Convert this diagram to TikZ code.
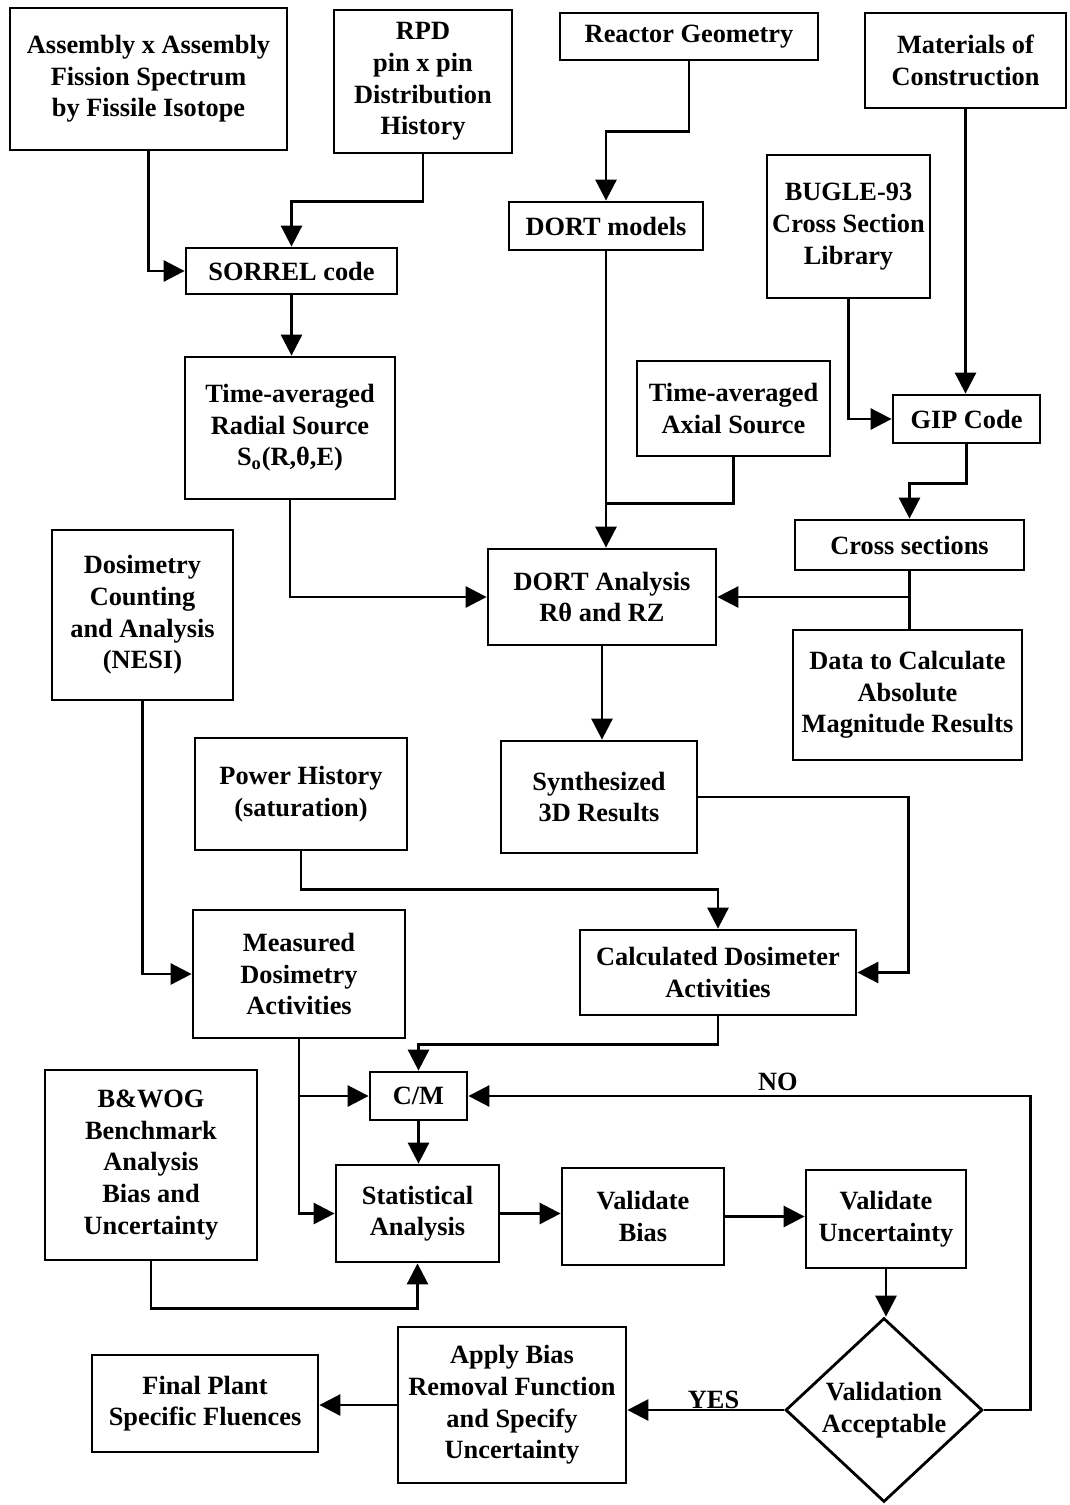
\documentclass[tikz,border=0pt]{standalone}
\usepackage{fontspec}
\setmainfont{Liberation Serif}
\usetikzlibrary{arrows.meta,shapes.geometric,calc}

\begin{document}
\begin{tikzpicture}[x=0.02cm,y=-0.02cm,
  box/.style={draw, line width=1.6pt, align=center, inner sep=2pt,
    font=\fontsize{15}{18}\selectfont\bfseries},
  sz/.style 2 args={minimum width=#1cm, minimum height=#2cm},
  decision/.style={box, diamond, inner sep=0pt},
  link/.style={line width=1.6pt},
  arr/.style={link, -{Triangle[length=0.42cm,width=0.42cm]}},
  tag/.style={font=\fontsize{15}{18}\selectfont\bfseries, inner sep=1pt}]

\useasboundingbox (0,0) rectangle (1070,1505);

% --- input data and codes ---
\node[box, sz={5.54}{2.84}] (asm)    at (148.5,79)   {Assembly x Assembly\\Fission Spectrum\\by Fissile Isotope};
\node[box, sz={3.56}{2.86}] (rpd)    at (423,81.5)   {RPD\\pin x pin\\Distribution\\History};
\node[box, sz={5.16}{0.94}] (geo)    at (689,36.5)   {Reactor Geometry};
\node[box, sz={4.02}{1.90}] (mat)    at (965.5,60.5) {Materials of\\Construction};
\node[box, sz={3.26}{2.86}] (bugle)  at (848.5,226.5) {BUGLE-93\\Cross Section\\Library};
\node[box, sz={3.88}{0.96}] (dortm)  at (606,226)    {DORT models};
\node[box, sz={4.22}{0.92}] (sorrel) at (291.5,271)  {SORREL code};
\node[box, sz={4.20}{2.84}] (radial) at (290,428)    {Time-averaged\\Radial Source\\S\textsubscript{o}(R,θ,E)};
\node[box, sz={3.86}{1.90}] (axial)  at (733.5,408.5) {Time-averaged\\Axial Source};
\node[box, sz={2.94}{0.96}] (gip)    at (966.5,419)  {GIP Code};
\node[box, sz={4.58}{1.00}] (xs)     at (909.5,545)  {Cross sections};
\node[box, sz={4.56}{1.92}] (dorta)  at (602,597)    {DORT Analysis\\Rθ and RZ};
\node[box, sz={3.62}{3.40}] (dosi)   at (142.5,615)  {Dosimetry\\Counting\\and Analysis\\(NESI)};
\node[box, sz={4.58}{2.60}] (data)   at (907.5,695)  {Data to Calculate\\Absolute\\Magnitude Results};

% --- activities ---
\node[box, sz={4.24}{2.24}] (power)  at (301,794)    {Power History\\(saturation)};
\node[box, sz={3.92}{2.24}] (synth)  at (599,797)    {Synthesized\\3D Results};
\node[box, sz={4.24}{2.56}] (meas)   at (299,974)    {Measured\\Dosimetry\\Activities};
\node[box, sz={5.52}{1.70}] (calc)   at (718,972.5)  {Calculated Dosimeter\\Activities};

% --- comparison and validation ---
\node[box, sz={1.94}{0.96}] (cm)     at (418.5,1096) {C/M};
\node[box, sz={4.24}{3.80}] (bwog)   at (151,1165)   {B\&WOG\\Benchmark\\Analysis\\Bias and\\Uncertainty};
\node[box, sz={3.26}{1.94}] (stat)   at (417.5,1213.5) {Statistical\\Analysis};
\node[box, sz={3.24}{1.94}] (vbias)  at (643,1216.5) {Validate\\Bias};
\node[box, sz={3.20}{1.96}] (vunc)   at (886,1219)   {Validate\\Uncertainty};
\node[decision, sz={3.94}{3.68}] (dia) at (884,1410) {Validation\\Acceptable};
\node[box, sz={4.56}{3.12}] (apply)  at (512,1405)   {Apply Bias\\Removal Function\\and Specify\\Uncertainty};
\node[box, sz={4.52}{1.94}] (final)  at (205,1403.5) {Final Plant\\Specific Fluences};

% --- source preparation ---
\draw[arr] (asm.south) |- (sorrel.west);
\draw[arr] (rpd.south) -- ++(0,47) -| (sorrel.north);
\draw[arr] (sorrel.south) -- (sorrel.south |- radial.north);
\draw[arr] (radial.south) |- (dorta.west);

% --- geometry and models ---
\draw[arr] (geo.south) -- ++(0,70) -| (dortm.north);
\draw[arr] (dortm.south) -- (dortm.south |- dorta.north);
\path (axial.south) ++(0,46) coordinate (axj);
\draw[link] (axial.south) -- (axj) -- (axj -| dortm.south);

% --- cross sections ---
\draw[arr] (bugle.south) |- (gip.west);
\draw[arr] (mat.south) -- (mat.south |- gip.north);
\draw[arr] (gip.south) -- ++(0,39) -| (xs.north);
\draw[link] (xs.south) -- (xs.south |- data.north);
\draw[arr] (xs.south |- dorta.east) -- (dorta.east);

% --- transport results to activities ---
\draw[arr] (dorta.south) -- (dorta.south |- synth.north);
\draw[arr] (synth.east) -- ++(210,0) |- (calc.east);
\draw[arr] (power.south) -- ++(0,38) -| (calc.north);
\draw[arr] (dosi.south) |- (meas.west);

% --- comparison ---
\draw[arr] (calc.south) -- ++(0,28) -| (cm.north);
\draw[arr] (meas.south) |- (stat.west);
\draw[arr] (meas.south |- cm.west) -- (cm.west);
\draw[arr] (cm.south) -- (cm.south |- stat.north);
\draw[arr] (bwog.south) -- ++(0,47) -| (stat.south);
\draw[arr] (stat.east) -- (stat.east -| vbias.west);
\draw[arr] (vbias.east) -- (vbias.east -| vunc.west);
\draw[arr] (vunc.south) -- (vunc.south |- dia.north);

% --- decision outcomes ---
\draw[arr] (dia.east) -- ++(47,0) |- node[tag, pos=0.725, above=1pt] {NO} (cm.east);
\draw[arr] (dia.west) -- node[tag, pos=0.45, above=-1pt] {YES} (dia.west -| apply.east);
\draw[arr] (apply.west) -- (apply.west -| final.east);

\end{tikzpicture}
\end{document}
